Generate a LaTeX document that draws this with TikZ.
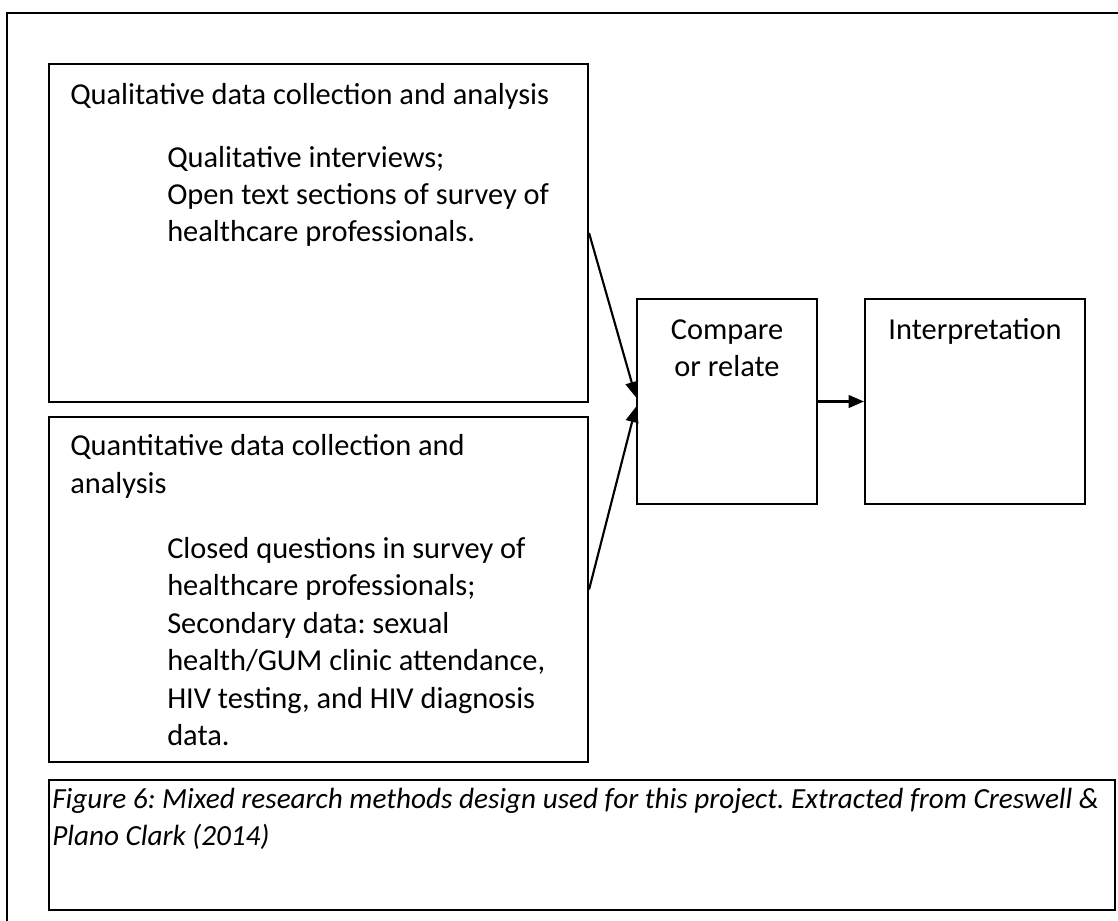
\documentclass[tikz,border=0pt]{standalone}
\usepackage{fontspec}
\setmainfont{Carlito}
\usetikzlibrary{arrows.meta}
\begin{document}
\frenchspacing
\begin{tikzpicture}[x=0.75pt,y=-0.75pt,
  box/.style={draw=black,line width=1.6pt,rectangle,inner sep=0pt},
  txt/.style={anchor=base west,inner sep=0pt,font=\fontsize{22.8pt}{28pt}\selectfont},
  ctxt/.style={anchor=base,inner sep=0pt,font=\fontsize{22.8pt}{28pt}\selectfont},
  itxt/.style={anchor=base west,inner sep=0pt,font=\fontsize{21.9pt}{28pt}\selectfont\itshape},
  arr/.style={line width=1.6pt,-{Triangle[length=11.5pt,width=9.5pt]}}]
\useasboundingbox (0,0) rectangle (1118,921);
% outer frame (cut off at the right and bottom)
\draw[line width=1.4pt] (7,925) -- (7,13) -- (1125,13);
% boxes
\node[box,minimum width=404.25pt,minimum height=253.5pt] (q1) at (318.5,233) {};
\node[box,minimum width=404.25pt,minimum height=258.75pt] (q2) at (318.5,589.5) {};
\node[box,minimum width=135pt,minimum height=153.75pt] (cmp) at (727,401.5) {};
\node[box,minimum width=165pt,minimum height=153.75pt] (int) at (975,401.5) {};
\node[box,minimum width=799.5pt,minimum height=97.5pt] (cap) at (582,845) {};
% texts of box 1
\node[txt] (t1) at (70,104) {Qualitative data collection and analysis};
\node[txt] (t1a) at (167,167) {Qualitative interviews;};
\node[txt] (t1b) at (167,204) {Open text sections of survey of};
\node[txt] (t1c) at (167,241) {healthcare professionals.};
% texts of box 2
\node[txt] (t2) at (70,455) {Quantitative data collection and};
\node[txt] (t2a) at (70,493) {analysis};
\node[txt] (t2b) at (167,558) {Closed questions in survey of};
\node[txt] (t2c) at (167,595) {healthcare professionals;};
\node[txt] (t2d) at (167,633) {Secondary data: sexual};
\node[txt] (t2e) at (167,670) {health/GUM clinic attendance,};
\node[txt] (t2f) at (167,708) {HIV testing, and HIV diagnosis};
\node[txt] (t2g) at (167,745) {data.};
% compare / interpretation
\node[ctxt] (c1) at (727,339) {Compare};
\node[ctxt] (c2) at (727,376) {or relate};
\node[ctxt] (i1) at (975,339) {Interpretation};
% caption
\node[itxt] (k1) at (52,808) {Figure 6: Mixed research methods design used for this project. Extracted from Creswell \&};
\node[itxt] (k2) at (52,845) {Plano Clark (2014)};
% arrows
\draw[arr] (q1.east) -- ([yshift=3.2pt]cmp.west);
\draw[arr] (q2.east) -- ([yshift=-4pt]cmp.west);
\draw[arr] (cmp.east) -- (int.west);
\end{tikzpicture}
\end{document}
